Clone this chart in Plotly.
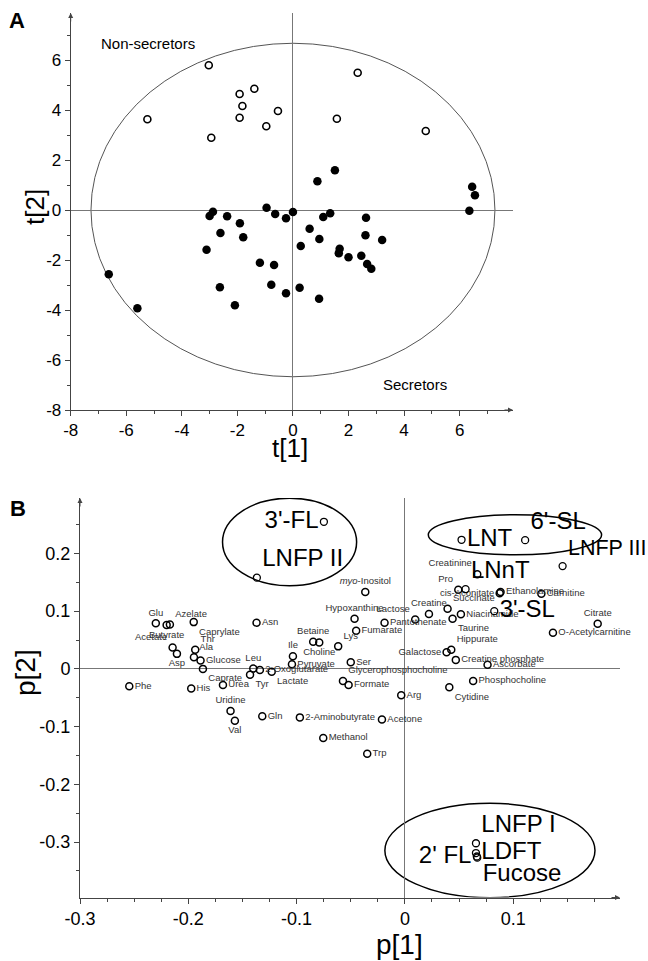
import numpy as np
import plotly.graph_objects as go

W, H = 648, 961
FONT = "Liberation Sans, Arial, sans-serif"

# ---------------- Panel A data (scores) ----------------
nonsec_t1 = [-3.03, -5.24, -1.92, -1.39, -1.82, -1.92, -2.94, -0.54, -0.96, 2.33, 1.58, 4.78]
nonsec_t2 = [5.79, 3.63, 4.64, 4.85, 4.16, 3.69, 2.89, 3.96, 3.35, 5.49, 3.65, 3.16]

sec_t1 = [-6.63, -5.60, -3.11, -3.00, -2.88, -2.61, -2.37, -2.63, -2.09, -1.91,
          -1.79, -1.19, -0.95, -0.78, -0.68, -0.64, -0.25, -0.25, 0.00, 0.28,
          0.24, 0.60, 0.88, 0.95, 0.94, 1.09, 1.34, 1.51, 1.68, 1.65,
          2.00, 2.46, 2.63, 2.61, 2.67, 2.82, 3.21, 6.35, 6.45, 6.55]
sec_t2 = [-2.57, -3.93, -1.59, -0.24, -0.07, -0.92, -0.25, -3.09, -3.81, -0.53,
          -1.09, -2.11, 0.09, -2.99, -2.20, -0.16, -0.33, -3.33, -0.08, -1.44,
          -3.11, -0.75, 1.15, -1.16, -3.55, -0.28, -0.13, 1.59, -1.55, -1.73,
          -1.89, -1.83, -0.31, -1.01, -2.16, -2.35, -1.20, -0.03, 0.93, 0.59]

a_ticks = [-8, -6, -4, -2, 0, 2, 4, 6]
a_ticktext = ["-8", "-6", "-4", "-2", "0", "2", "4", "6"]

# ---------------- Panel B data (loadings) ----------------
met_names = ["Glu", "Azelate", "Butyrate", "Caprylate", "Asn", "Acetate", "Asp", "Thr", "Ala",
             "Glucose", "Caprate", "Leu", "Tyr", "2-Oxoglutarate", "Lactate", "Ile", "Pyruvate",
             "Phe", "His", "Urea", "Uridine", "Val", "Gln", "2-Aminobutyrate", "Betaine",
             "Choline", "Lys", "Ser", "Hypoxanthine", "Fumarate", "Pantothenate", "Lactose",
             "Creatine", "Glycerophosphocholine", "Formate", "Arg", "Acetone", "Methanol", "Trp",
             "<i>myo</i>-Inositol", "Galactose", "Hippurate", "Creatine phosphate", "Ascorbate",
             "Phosphocholine", "Cytidine", "Creatinine", "Pro", "cis-Aconitate", "Ethanolamine",
             "Carnitine", "Succinate", "Niacinamide", "Taurine", "Citrate", "O-Acetylcarnitine"]
met_p1 = [-0.230, -0.217, -0.220, -0.195, -0.137, -0.2145, -0.2105, -0.1936, -0.1948,
          -0.1887, -0.1865, -0.140, -0.143, -0.1339, -0.123, -0.1034, -0.1043,
          -0.2545, -0.1973, -0.168, -0.161, -0.157, -0.1317, -0.097, -0.0847,
          -0.0791, -0.0616, -0.050, -0.0465, -0.045, -0.0188, 0.0095,
          0.0222, -0.0572, -0.052, -0.0034, -0.0212, -0.0754, -0.0348,
          -0.0366, 0.0385, 0.0428, 0.047, 0.0763,
          0.063, 0.041, 0.0668, 0.0493, 0.0875, 0.0883,
          0.126, 0.0394, 0.0517, 0.044, 0.178, 0.1367]
met_p2 = [0.079, 0.077, 0.076, 0.081, 0.080, 0.037, 0.026, 0.033, 0.020,
          0.0144, 0.000, 0.0005, -0.010, -0.002, -0.005, 0.022, 0.008,
          -0.030, -0.034, -0.028, -0.073, -0.090, -0.082, -0.084, 0.047,
          0.0456, 0.039, 0.0116, 0.087, 0.066, 0.080, 0.0855,
          0.095, -0.021, -0.028, -0.0456, -0.0878, -0.1196, -0.147,
          0.133, 0.029, 0.033, 0.0156, 0.007,
          -0.0208, -0.0318, 0.164, 0.137, 0.131, 0.133,
          0.130, 0.104, 0.0948, 0.087, 0.078, 0.0624]
met_pos = ["top center", "top right", "bottom center", "bottom right", "middle right",
           "top left", "bottom center", "top right", "top right", "middle right",
           "bottom right", "top center", "bottom right", "middle right", "bottom right",
           "top center", "middle right", "middle right", "middle right", "middle right",
           "top center", "bottom center", "middle right", "middle right", "top center",
           "bottom center", "top right", "middle right", "top center", "middle right",
           "middle right", "top left", "top center", "top right", "middle right",
           "middle right", "middle right", "middle right", "middle right", "top center",
           "middle left", "top right", "middle right", "middle right", "middle right",
           "bottom right", "top left", "top left", "middle left", "middle right",
           "middle right", "top right", "middle right", "bottom right", "top center",
           "middle right"]

hmo_names = ["LNT", "6'-SL", "LNFP III", "LNnT", "3'-SL", "3'-FL", "LNFP II",
             "LNFP I", "LDFT", "Fucose", "2' FL"]
hmo_p1 = [0.0523, 0.111, 0.1456, 0.056, 0.0825, -0.0748, -0.1367,
          0.0656, 0.0656, 0.0668, 0.0664]
hmo_p2 = [0.2236, 0.223, 0.178, 0.138, 0.100, 0.2548, 0.158,
          -0.302, -0.319, -0.327, -0.325]
hmo_pos = ["middle right", "top right", "top right", "top right", "middle right",
           "middle left", "top right", "top right", "middle right", "bottom right",
           "middle left"]
hmo_size = [24, 24, 21.5, 24, 24, 24, 24, 24, 24, 24, 24]

b_xticks = [-0.3, -0.2, -0.1, 0, 0.1]
b_xticktext = ["-0.3", "-0.2", "-0.1", "0", "0.1"]
b_yticks = [-0.3, -0.2, -0.1, 0, 0.1, 0.2]
b_yticktext = ["-0.3", "-0.2", "-0.1", "0", "0.1", "0.2"]

# ellipses (cx, cy, rx, ry)
ell_a = (0.0, 0.0, 7.27, 6.67)
ell_b = [(-0.1065, 0.2198, 0.0619, 0.0759),
         (0.1016, 0.2322, 0.080, 0.0347),
         (0.0785, -0.3146, 0.097, 0.0818)]

# ---------------- layout geometry (pixels) ----------------
def px(x):
    return x / W


def py(y):
    return 1 - y / H


A_X = [70.7, 513.0]
A_Y = [410.0, 13.0]
A_XR = [-8, 7.92]
A_YR = [-8, 7.88]
B_X = [80.0, 620.0]
B_Y = [897.5, 498.0]
B_XR = [-0.3, 0.1986]
B_YR = [-0.396, 0.296]

fig = go.Figure()

fig.add_trace(go.Scatter(x=nonsec_t1, y=nonsec_t2, mode="markers", xaxis="x", yaxis="y",
                         marker=dict(symbol="circle-open", size=7, color="black",
                                     line=dict(width=1.6, color="black")),
                         showlegend=False, hoverinfo="skip"))
fig.add_trace(go.Scatter(x=sec_t1, y=sec_t2, mode="markers", xaxis="x", yaxis="y",
                         marker=dict(symbol="circle", size=8.5, color="black"),
                         showlegend=False, hoverinfo="skip"))

fig.add_trace(go.Scatter(x=met_p1, y=met_p2, mode="markers+text", xaxis="x2", yaxis="y2",
                         text=met_names, textposition=met_pos,
                         textfont=dict(family=FONT, size=9.5, color="#333"),
                         marker=dict(symbol="circle-open", size=7, color="black",
                                     line=dict(width=1.5, color="black")),
                         cliponaxis=False, showlegend=False, hoverinfo="skip"))
fig.add_trace(go.Scatter(x=hmo_p1, y=hmo_p2, mode="markers+text", xaxis="x2", yaxis="y2",
                         text=hmo_names, textposition=hmo_pos,
                         textfont=dict(family=FONT, size=hmo_size, color="black"),
                         marker=dict(symbol="circle-open", size=7, color="black",
                                     line=dict(width=1.3, color="black")),
                         cliponaxis=False, showlegend=False, hoverinfo="skip"))

shapes = []
cx, cy, rx, ry = ell_a
shapes.append(dict(type="circle", xref="x", yref="y", x0=cx - rx, x1=cx + rx,
                   y0=cy - ry, y1=cy + ry, line=dict(color="#555", width=1), layer="below"))
for cx, cy, rx, ry in ell_b:
    shapes.append(dict(type="circle", xref="x2", yref="y2", x0=cx - rx, x1=cx + rx,
                       y0=cy - ry, y1=cy + ry, line=dict(color="black", width=1.5),
                       layer="below"))

axis_common = dict(showgrid=False, showline=True, linecolor="#444", linewidth=1,
                   ticks="outside", ticklen=5, tickcolor="#444", tickwidth=1,
                   zeroline=True, zerolinecolor="#777", zerolinewidth=1,
                   tickmode="array", fixedrange=True, automargin=False)

fig.update_layout(
    template="none",
    width=W, height=H, margin=dict(l=0, r=0, t=0, b=0, pad=0, autoexpand=False),
    paper_bgcolor="white", plot_bgcolor="white",
    font=dict(family=FONT, color="black"),
    showlegend=False,
    shapes=shapes,
    xaxis=dict(domain=[px(A_X[0]), px(A_X[1])], range=A_XR, anchor="y",
               tickvals=a_ticks, ticktext=a_ticktext, tickfont=dict(size=17),
               minor=dict(tickmode="array", tickvals=list(np.arange(-7, 8, 2)),
                          ticks="outside", ticklen=3, tickcolor="#444"),
               **axis_common),
    yaxis=dict(domain=[py(A_Y[0]), py(A_Y[1])], range=A_YR, anchor="x",
               tickvals=a_ticks, ticktext=a_ticktext, tickfont=dict(size=17),
               minor=dict(tickmode="array", tickvals=list(np.arange(-7, 8, 2)),
                          ticks="outside", ticklen=3, tickcolor="#444"),
               **axis_common),
    xaxis2=dict(domain=[px(B_X[0]), px(B_X[1])], range=B_XR, anchor="y2",
                tickvals=b_xticks, ticktext=b_xticktext, tickfont=dict(size=18),
                minor=dict(tickmode="array",
                           tickvals=[round(v, 4) for v in np.arange(-0.275, 0.2, 0.025)],
                           ticks="outside", ticklen=3, tickcolor="#444"),
                **axis_common),
    yaxis2=dict(domain=[py(B_Y[0]), py(B_Y[1])], range=B_YR, anchor="x2",
                tickvals=b_yticks, ticktext=b_yticktext, tickfont=dict(size=18),
                minor=dict(tickmode="array",
                           tickvals=[round(v, 4) for v in np.arange(-0.35, 0.3, 0.1)],
                           ticks="outside", ticklen=3, tickcolor="#444"),
                **axis_common),
)

ann = []
# axis arrows
for xr, yr, xa, ya in [("x", "y", A_XR, A_YR), ("x2", "y2", B_XR, B_YR)]:
    ann.append(dict(xref=xr, yref=yr, x=xa[1], y=ya[0], ax=-10, ay=0, text="",
                    showarrow=True, arrowhead=2, arrowsize=1, arrowwidth=1, arrowcolor="#444"))
    ann.append(dict(xref=xr, yref=yr, x=xa[0], y=ya[1], ax=0, ay=10, text="",
                    showarrow=True, arrowhead=2, arrowsize=1, arrowwidth=1, arrowcolor="#444"))


def label(x, y, text, size, xref="paper", yref="paper", angle=0, xanchor="center"):
    if xref == "paper":
        x = px(x)
    if yref == "paper":
        y = py(y)
    return dict(xref=xref, yref=yref, x=x, y=y, text=text, textangle=angle,
                xanchor=xanchor, yanchor="middle", showarrow=False,
                font=dict(size=size, family=FONT, color="black"))


ann.append(label(17, 20, "<b>A</b>", 22))
ann.append(label(18, 508, "<b>B</b>", 22))
ann.append(label(290, 448, "t[1]", 26))
ann.append(label(35, 207, "t[2]", 26, angle=-90))
ann.append(label(399, 944, "p[1]", 28))
ann.append(label(25, 673, "p[2]", 28, angle=-90))
ann.append(label(-6.97, 6.68, "Non-secretors", 15, xref="x", yref="y", xanchor="left"))
ann.append(label(3.18, -6.96, "Secretors", 15, xref="x", yref="y", xanchor="left"))

fig.update_layout(annotations=ann)

fig.write_html("out.html", config={"displayModeBar": False, "staticPlot": True},
               post_script="document.body.style.margin='0';document.body.style.overflow='hidden';")
